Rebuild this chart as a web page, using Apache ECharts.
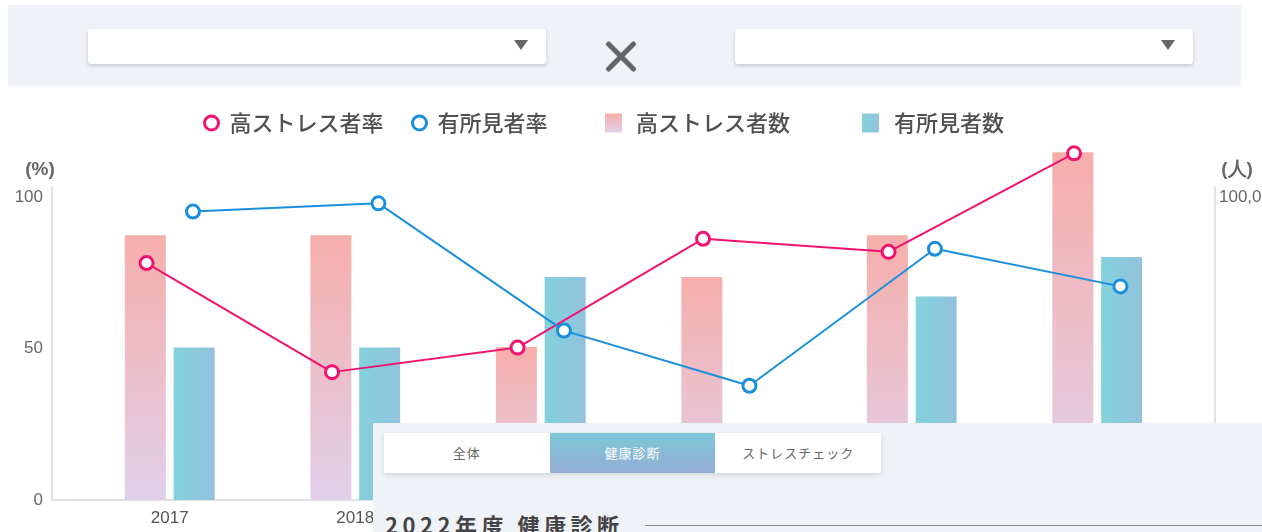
<!DOCTYPE html>
<html>
<head>
<meta charset="utf-8">
<script src="https://cdn.jsdelivr.net/npm/echarts@6/dist/echarts.min.js"></script>
<style>
  html, body { margin: 0; padding: 0; background: #fff; }
  body { width: 1262px; height: 532px; position: relative; overflow: hidden;
         font-family: "Noto Sans CJK JP", "Liberation Sans", sans-serif; }
  #chart { position: absolute; left: 0; top: 0; width: 1262px; height: 532px; }
  .bar { position: absolute; left: 8px; top: 5px; width: 1233px; height: 81px; background: #eff2f7; }
  .select { position: absolute; top: 24px; width: 458px; height: 35px; background: #fff;
            border-radius: 3px; box-shadow: 0 2px 4px rgba(0,0,0,0.16); }
  .select .tri { position: absolute; right: 18px; top: 11px; width: 0; height: 0;
                 border-left: 7px solid transparent; border-right: 7px solid transparent; border-top: 10px solid #666; }
  .cross { position: absolute; left: 595px; top: 34px; width: 36px; height: 36px; }
  .cross i { position: absolute; left: -2px; top: 15px; width: 40px; height: 5px; background: #666; border-radius: 2px; }
  .cross i:first-child { transform: rotate(45deg); }
  .cross i:last-child { transform: rotate(-45deg); }
  .panel { position: absolute; left: 373px; top: 423px; width: 889px; height: 109px; background: #eff2f6; }
  .tabs { position: absolute; left: 11px; top: 10px; width: 497px; height: 40px; background: #fff;
          box-shadow: 0 2px 5px rgba(0,0,0,0.12); display: flex; }
  .tabs div { flex: 1; text-align: center; line-height: 40px; font-size: 13px; color: #666; letter-spacing: 1px; }
  .tabs div.on { color: #fff; background: linear-gradient(#7dc8d8, #95acd4); }
  .title { position: absolute; left: 12px; top: 85px; font-size: 22px; font-weight: bold; color: #444;
           letter-spacing: 4.5px; white-space: nowrap; }
  .rule { position: absolute; left: 272px; top: 102px; right: 0; height: 1px; background: #888; }
</style>
</head>
<body>
<div id="chart"></div>
<div class="bar">
  <div class="select" style="left:80px"><span class="tri"></span></div>
  <div class="cross"><i></i><i></i></div>
  <div class="select" style="left:727px"><span class="tri"></span></div>
</div>
<div class="panel">
  <div class="tabs"><div>全体</div><div class="on">健康診断</div><div>ストレスチェック</div></div>
  <div class="title">2022年度 健康診断</div>
  <div class="rule"></div>
</div>
<script>
const years = ['2017', '2018', '2019', '2020', '2021', '2022'];
const stressRate = [78.2, 42.2, 50.3, 86.2, 81.9, 114.4];
const findingRate = [95.2, 97.9, 55.9, 37.7, 82.9, 70.5];
const stressCount = [87400, 87400, 50500, 73600, 87400, 114800];
const findingCount = [50300, 50300, 73600, 20000, 67200, 80200];

const pink = '#f0136f';
const blue = '#1a8fdc';

// each year split in 4 slots so the line points sit over their bars
function slotted(values, pos) {
  let out = [];
  values.forEach(v => {
    for (let k = 0; k < 4; k++) out.push(k === pos ? v : null);
  });
  return out;
}
const slots = [];
years.forEach(y => { for (let k = 0; k < 4; k++) slots.push(y + '-' + k); });

const pinkBar = new echarts.graphic.LinearGradient(0, 0, 0, 1, [
  { offset: 0, color: '#f6aeaa' }, { offset: 1, color: '#e1d0ea' }
]);
const cyanBar = new echarts.graphic.LinearGradient(0, 0, 1, 0, [
  { offset: 0, color: '#83d2dc' }, { offset: 1, color: '#92c2dd' }
]);

const legendText = { fontSize: 22, fontWeight: 500, color: '#505050', fontFamily: 'Noto Sans CJK JP' };

let chart = echarts.init(document.getElementById('chart'));
let option = {
  animation: false,
  legend: [
    { left: 198, top: 107, itemWidth: 14, itemHeight: 14,
      textStyle: Object.assign({ padding: [0, 0, 0, 6] }, legendText),
      data: [{ name: '高ストレス者率', icon: 'circle', itemStyle: { color: '#fff', borderColor: pink, borderWidth: 3 } }] },
    { left: 406, top: 107, itemWidth: 14, itemHeight: 14,
      textStyle: Object.assign({ padding: [0, 0, 0, 6] }, legendText),
      data: [{ name: '有所見者率', icon: 'circle', itemStyle: { color: '#fff', borderColor: blue, borderWidth: 3 } }] },
    { left: 600, top: 107, itemWidth: 17, itemHeight: 19,
      textStyle: Object.assign({ padding: [0, 0, 0, 9] }, legendText),
      data: [{ name: '高ストレス者数', icon: 'rect' }] },
    { left: 857, top: 107, itemWidth: 17, itemHeight: 19,
      textStyle: Object.assign({ padding: [0, 0, 0, 10] }, legendText),
      data: [{ name: '有所見者数', icon: 'rect' }] }
  ],
  grid: { left: 77, right: 72, top: 187, bottom: 32, outerBoundsMode: 'none' },
  xAxis: [
    {
      type: 'category',
      data: years,
      axisLine: { lineStyle: { color: '#d8d8d8', width: 1.5 } },
      axisTick: { show: false },
      axisLabel: { color: '#555', fontSize: 17, margin: 10, fontFamily: 'Liberation Sans' }
    },
    { type: 'category', data: slots, show: false }
  ],
  yAxis: [
    {
      type: 'value', position: 'left', offset: 25,
      min: 0, max: 103.3, interval: 50,
      name: '(%)', nameLocation: 'end', nameGap: 8,
      nameTextStyle: { color: '#666', fontSize: 19, fontWeight: 'bold', padding: [0, 24, 0, 0] },
      axisLine: { show: true, lineStyle: { color: '#d8d8d8', width: 1.5 } },
      axisTick: { show: false },
      splitLine: { show: false },
      axisLabel: { color: '#666', fontSize: 17, margin: 9, fontFamily: 'Liberation Sans',
        formatter: v => (v % 50 === 0 ? String(v) : '') }
    },
    {
      type: 'value', position: 'right', offset: 25,
      min: 0, max: 103300, interval: 100000,
      name: '(人)', nameLocation: 'end', nameGap: 8,
      nameTextStyle: { color: '#666', fontSize: 19, fontWeight: 'bold', padding: [0, 0, 0, 44] },
      axisLine: { show: true, lineStyle: { color: '#d8d8d8', width: 1.5 } },
      axisTick: { show: false },
      splitLine: { show: false },
      axisLabel: { color: '#666', fontSize: 17, margin: 4, fontFamily: 'Liberation Sans',
        formatter: v => (v % 100000 === 0 ? v.toLocaleString('en-US') : '') }
    }
  ],
  graphic: [
    { type: 'line', shape: { x1: 52, y1: 500, x2: 77, y2: 500 }, style: { stroke: '#d8d8d8', lineWidth: 1.5 } }
  ],
  series: [
    {
      name: '高ストレス者数', type: 'bar', yAxisIndex: 1, xAxisIndex: 0,
      barWidth: 41, barGap: '19%', clip: false,
      itemStyle: { color: pinkBar },
      data: stressCount
    },
    {
      name: '有所見者数', type: 'bar', yAxisIndex: 1, xAxisIndex: 0,
      barWidth: 41, barGap: '19%', clip: false,
      itemStyle: { color: cyanBar },
      data: findingCount
    },
    {
      name: '高ストレス者率', type: 'line', xAxisIndex: 1, yAxisIndex: 0,
      connectNulls: true, clip: false, symbol: 'circle', symbolSize: 13,
      lineStyle: { color: pink, width: 2 },
      itemStyle: { color: '#fff', borderColor: pink, borderWidth: 3 },
      data: slotted(stressRate, 1)
    },
    {
      name: '有所見者率', type: 'line', xAxisIndex: 1, yAxisIndex: 0,
      connectNulls: true, clip: false, symbol: 'circle', symbolSize: 13,
      lineStyle: { color: blue, width: 2 },
      itemStyle: { color: '#fff', borderColor: blue, borderWidth: 3 },
      data: slotted(findingRate, 2)
    }
  ]
};
chart.setOption(option);
</script>
</body>
</html>
